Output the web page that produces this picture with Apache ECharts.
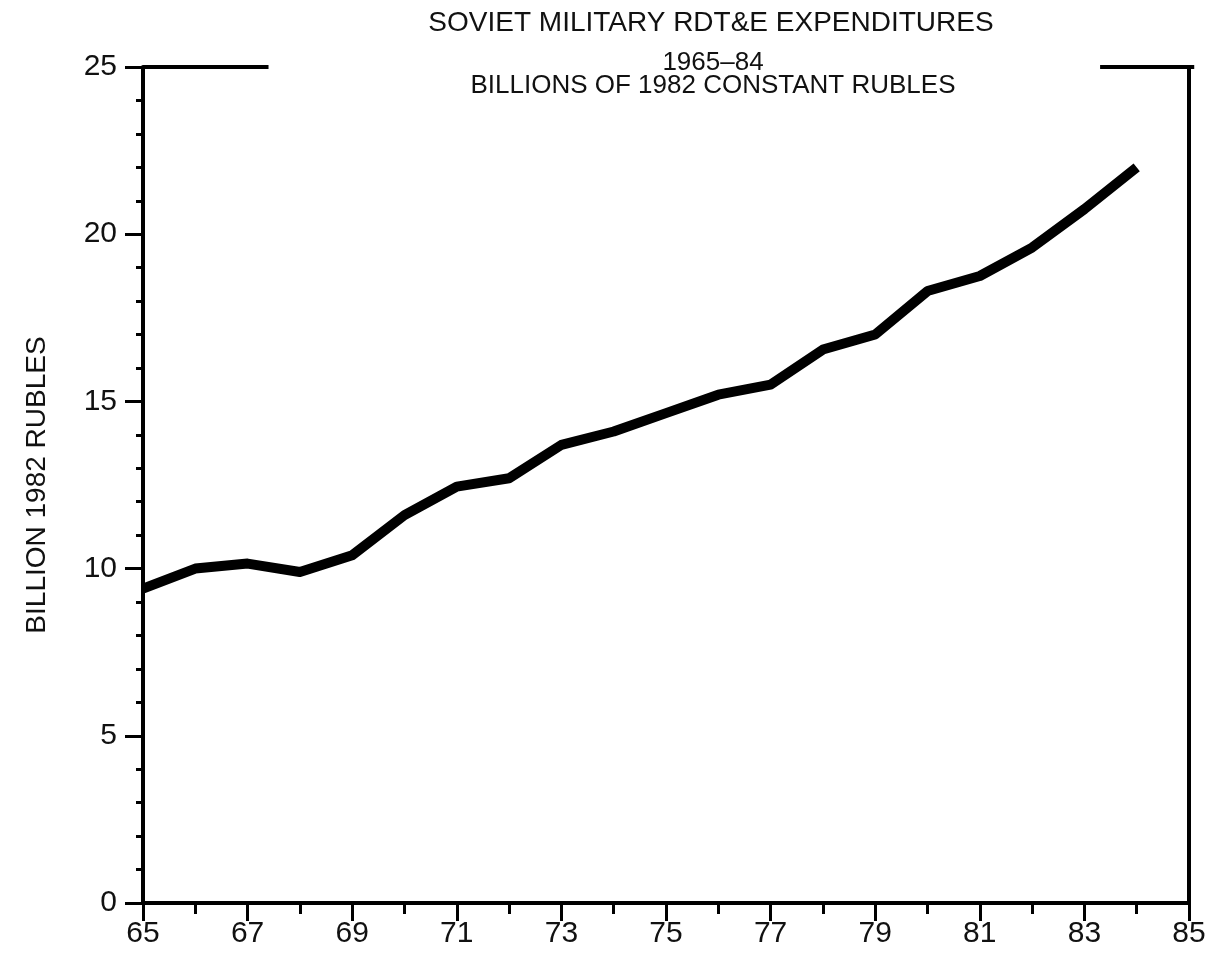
<!DOCTYPE html>
<html>
<head>
<meta charset="utf-8">
<script src="https://cdn.jsdelivr.net/npm/echarts@6/dist/echarts.min.js"></script>
<style>
html,body{margin:0;padding:0;background:#fff;}
#chart{width:1209px;height:959px;}
</style>
</head>
<body>
<div id="chart"></div>
<script>
const years = [65,66,67,68,69,70,71,72,73,74,75,76,77,78,79,80,81,82,83,84];
const spending = [9.4,10.0,10.15,9.9,10.4,11.6,12.45,12.7,13.7,14.1,14.65,15.2,15.5,16.55,17.0,18.3,18.75,19.6,20.75,22.0];
const titleLine1 = "SOVIET MILITARY RDT&E EXPENDITURES";
const titleLine2 = "1965\u201384";
const titleLine3 = "BILLIONS OF 1982 CONSTANT RUBLES";
const yAxisName = "BILLION 1982 RUBLES";
const topFrameLeft = [65, 67.4];
const topFrameRight = [83.3, 85.1];

const FONT = "'Liberation Sans', 'DejaVu Sans', sans-serif";
const chart = echarts.init(document.getElementById('chart'));
chart.setOption({
  backgroundColor: '#fff',
  animation: false,
  title: [
    {text: titleLine1, left: 706, top: 4, textAlign: 'center',
     textStyle: {fontFamily: FONT, fontWeight: 'normal', fontSize: 28, color: '#111'}},
    {text: titleLine2 + "\n" + titleLine3, left: 708, top: 46, textAlign: 'center',
     textStyle: {fontFamily: FONT, fontWeight: 'normal', fontSize: 26, lineHeight: 23, color: '#111'}}
  ],
  grid: {left: 143, right: 20, top: 67, bottom: 56},
  xAxis: {
    type: 'value', min: 65, max: 85, interval: 2,
    axisLine: {lineStyle: {color: '#000', width: 4}},
    axisTick: {show: true, length: 18, lineStyle: {color: '#000', width: 3}},
    minorTick: {show: true, splitNumber: 2, length: 11, lineStyle: {color: '#000', width: 3}},
    splitLine: {show: false},
    axisLabel: {margin: 16, fontFamily: FONT, fontSize: 30, color: '#111'}
  },
  yAxis: [{
    type: 'value', min: 0, max: 25, interval: 5,
    name: yAxisName, nameLocation: 'middle', nameGap: 92, nameRotate: 90,
    nameTextStyle: {fontFamily: FONT, fontSize: 28, color: '#111'},
    axisLine: {lineStyle: {color: '#000', width: 4}},
    axisTick: {show: true, length: 18, lineStyle: {color: '#000', width: 3}},
    minorTick: {show: true, splitNumber: 5, length: 7, lineStyle: {color: '#000', width: 3}},
    splitLine: {show: false},
    axisLabel: {margin: 26, fontFamily: FONT, fontSize: 30, color: '#111'}
  }, {
    type: 'value', min: 0, max: 25, interval: 5, position: 'right',
    axisLine: {show: true, lineStyle: {color: '#000', width: 4}},
    axisTick: {show: false}, axisLabel: {show: false}, splitLine: {show: false}
  }],
  series: [{
    type: 'line',
    data: years.map((y, i) => [y, spending[i]]),
    showSymbol: false,
    lineStyle: {color: '#000', width: 10, join: 'round', cap: 'butt'}
  }]
});

function frameLine(range) {
  const a = chart.convertToPixel({gridIndex: 0}, [range[0], 25]);
  const b = chart.convertToPixel({gridIndex: 0}, [range[1], 25]);
  return {type: 'line', shape: {x1: a[0], y1: a[1], x2: b[0], y2: b[1]},
          style: {stroke: '#000', lineWidth: 4}, z: 10};
}
chart.setOption({graphic: [frameLine(topFrameLeft), frameLine(topFrameRight)]});
</script>
</body>
</html>
